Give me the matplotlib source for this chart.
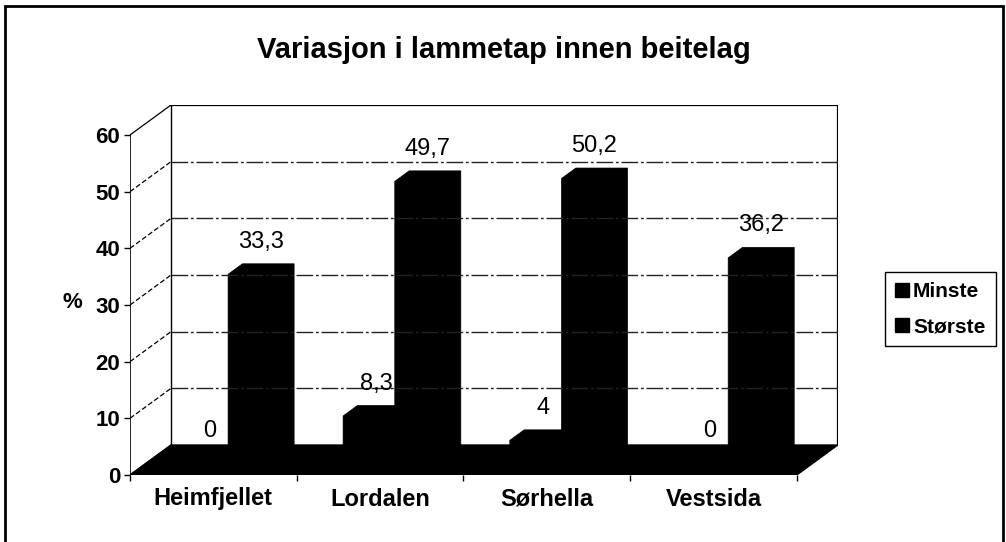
import matplotlib
matplotlib.use('Agg')
import matplotlib.pyplot as plt
from matplotlib.patches import Polygon, Rectangle, Patch

plt.rcParams['font.family'] = ['Liberation Sans', 'DejaVu Sans']

categories = ['Heimfjellet', 'Lordalen', 'Sørhella', 'Vestsida']
minste = [0, 8.3, 4, 0]
storste = [33.3, 49.7, 50.2, 36.2]
series_names = ['Minste', 'Største']
yticks = [0, 10, 20, 30, 40, 50, 60]
title = 'Variasjon i lammetap innen beitelag'

# fake 3d: depth offset in data units
DX = 0.246
DY = 5.29
ymax = 60
ncat = len(categories)

fig = plt.figure(figsize=(10.06, 5.42), dpi=100)
fig.patch.set_facecolor('white')
ax = fig.add_axes([130 / 1006, 67 / 542, 707.8 / 1006, 370 / 542])
ax.set_xlim(0, ncat + DX)
ax.set_ylim(0, ymax + DY)
for s in ax.spines.values():
    s.set_visible(False)

# back wall
ax.plot([DX, ncat + DX, ncat + DX], [ymax + DY, ymax + DY, DY], color='black', lw=1.6)
ax.plot([DX, DX], [DY, ymax + DY], color='black', lw=1.0)
for v in yticks[1:-1]:
    ax.plot([DX, ncat + DX], [v + DY, v + DY], color='#222222', lw=1.0,
            linestyle=(0, (12, 2, 2, 2)))
# side wall lines
for v in yticks:
    ls = '-' if v in (0, ymax) else (0, (4, 2))
    ax.plot([0, DX], [v, v + DY], color='black', lw=0.9, linestyle=ls)
ax.plot([0, 0], [0, ymax], color='black', lw=1.2)

# floor
ax.add_patch(Polygon([(0, 0), (ncat, 0), (ncat + DX, DY), (DX, DY)],
                     closed=True, facecolor='black', edgecolor='black'))


def bar3d(x0, x1, h, z0=0.4, z1=0.75):
    pts = [(x0 + z0 * DX, z0 * DY), (x0 + z0 * DX, h + z0 * DY),
           (x0 + z1 * DX, h + z1 * DY), (x1 + z1 * DX, h + z1 * DY),
           (x1 + z1 * DX, z1 * DY), (x1 + z0 * DX, z0 * DY)]
    ax.add_patch(Polygon(pts, closed=True, facecolor='black', edgecolor='black', lw=0.5))


def fmt(v):
    return ('%g' % v).replace('.', ',')


zmid = 0.575
for i in range(ncat):
    for j, vals in enumerate([minste, storste]):
        x0 = i + 0.18 + j * 0.31
        x1 = x0 + 0.31
        v = vals[i]
        if v > 0:
            bar3d(x0, x1, v)
        ax.text((x0 + x1) / 2 + zmid * DX, v + zmid * DY + 4.8, fmt(v),
                ha='center', va='center', fontsize=17)

ax.set_yticks(yticks)
ax.set_yticklabels([str(t) for t in yticks], fontsize=16, fontweight='bold')
ax.tick_params(axis='y', length=4, width=1, pad=3)
ax.set_xticks(range(ncat + 1))
ax.set_xticklabels([])
ax.tick_params(axis='x', which='major', length=4, width=1)
ax.set_xticks([i + 0.5 for i in range(ncat)], minor=True)
ax.set_xticklabels(categories, minor=True, fontsize=17, fontweight='bold')
ax.tick_params(axis='x', which='minor', length=0, pad=9)

fig.text(72 / 1006, 1 - 303 / 542, '%', fontsize=16, fontweight='bold',
         ha='center', va='center')
fig.text(0.501, 1 - 50 / 542, title, fontsize=21, fontweight='bold',
         ha='center', va='center')

handles = [Patch(facecolor='black', edgecolor='black', label=n) for n in series_names]
leg = fig.legend(handles=handles, loc='upper left',
                 bbox_to_anchor=(885 / 1006, 1 - 272 / 542),
                 prop={'size': 15, 'weight': 'bold'}, handlelength=0.65,
                 handleheight=0.65, handletextpad=0.2, borderpad=0.5,
                 borderaxespad=0, labelspacing=0.75, fancybox=False,
                 edgecolor='black', framealpha=1)
leg.get_frame().set_linewidth(1.0)

fig.patches.append(Rectangle((5 / 1006, -0.01), 998 / 1006, 1 - 6 / 542 + 0.01,
                             transform=fig.transFigure, fill=False,
                             edgecolor='black', lw=2))

fig.savefig('out.png', dpi=100)
